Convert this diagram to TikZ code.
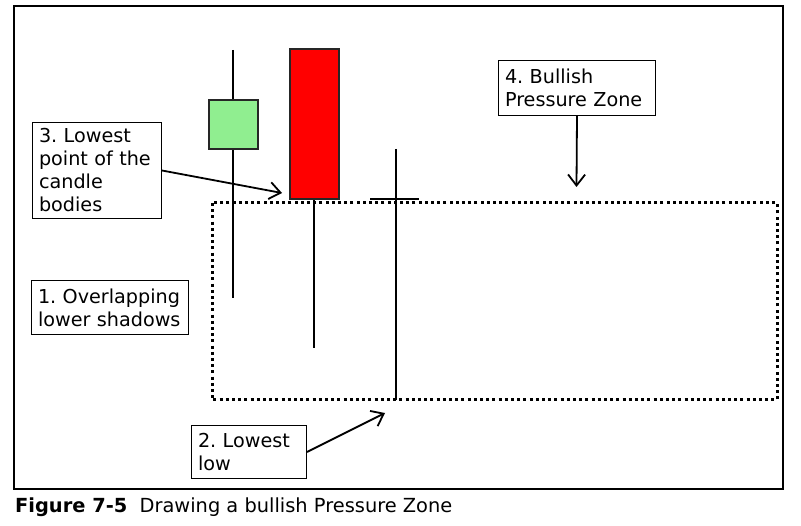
\documentclass[tikz,border=0pt]{standalone}
\usepackage{fontspec}
\setmainfont{DejaVu Sans}
\usetikzlibrary{arrows.meta}
\frenchspacing

\definecolor{bullgreen}{RGB}{144,238,144}

\tikzset{
  callout/.style={draw, line width=1pt, fill=white, anchor=north west, align=left,
    inner xsep=6.5pt, inner ysep=0pt, font=\fontsize{19.2}{23}\selectfont},
  wick/.style={line width=2pt},
  body/.style={draw=black!85, line width=1.6pt},
  zone/.style={line width=3pt, dash pattern=on 3pt off 3.2pt},
  pointer/.style={line width=1.8pt, -{Straight Barb[length=11pt,width=17pt]}}
}

\begin{document}
\begin{tikzpicture}[x=1pt, y=-1pt]
    \useasboundingbox (0,0) rectangle (801,526);

    % frame
    \draw[line width=1.7pt] (14,6) rectangle (783,489);

    % pressure zone
    \draw[zone] (212,203) rectangle (777,400);

    % candles
    \draw[wick] (233,50) -- (233,298);
    \draw[body, fill=bullgreen] (209,100) rectangle (258,149);
    \draw[wick] (314,199) -- (314,348);
    \draw[body, fill=red] (290,49) rectangle (339,199);
    \draw[wick] (396,149) -- (396,400);
    \draw[wick] (370,199) -- (419,199);

    % labels
    \node[callout, text width=116pt, minimum height=96pt] (lowbody) at (32,122)
        {3. Lowest\\point of the\\candle\\bodies};
    \node[callout, text width=144pt, minimum height=54pt] (shadows) at (31,280)
        {1. Overlapping\\lower shadows};
    \node[callout, text width=102pt, minimum height=53pt] (lowlow) at (191,425)
        {2. Lowest\\low};
    \node[callout, text width=144pt, minimum height=55pt] (zonelabel) at (498,60)
        {4. Bullish\\Pressure Zone};

    \coordinate (redlow) at (282,193);
    \coordinate (dojilow) at (385,413);
    \coordinate (zonetop) at (576.5,187);

    \draw[pointer] (lowbody.east) -- (redlow);
    \draw[pointer] (lowlow.east) -- (dojilow);
    \draw[pointer] (zonelabel.south) -- (zonetop);

    % caption
    \node[anchor=base west, inner sep=0pt, font=\fontsize{19.4}{23}\selectfont] (caption) at (15,513)
        {\textbf{Figure 7-5}~~Drawing a bullish Pressure Zone};
\end{tikzpicture}
\end{document}
